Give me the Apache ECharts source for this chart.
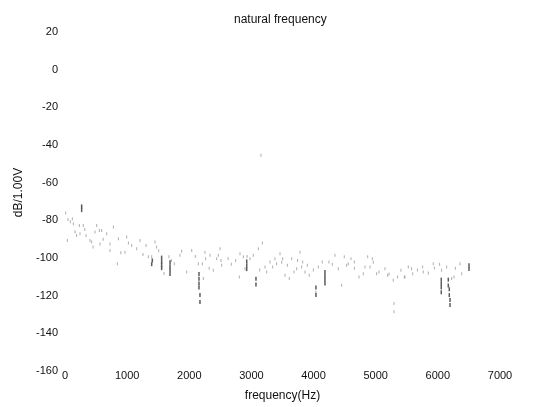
<!DOCTYPE html>
<html>
<head>
<meta charset="utf-8">
<script src="https://cdn.jsdelivr.net/npm/echarts@6/dist/echarts.min.js"></script>
<style>html,body{margin:0;padding:0;background:#fff}#c{width:535px;height:407px}</style>
</head>
<body>
<div id="c"></div>
<script>
// x axis ticks (Hz) and y axis ticks (dB)
var xTicks = [0, 1000, 2000, 3000, 4000, 5000, 6000, 7000];
var yTicks = [20, 0, -20, -40, -60, -80, -100, -120, -140, -160];

// light spectrum samples (frequency Hz, level dB)
var freqLight = [11,48,118,134,268,38,161,231,241,295,338,403,429,483,510,563,553,590,671,724,724,778,859,842,965,993,1073,1154,1207,1304,1341,
  1448,1475,1395,1593,1673,1759,1850,1877,1958,2039,2145,2210,2226,2252,2263,2334,2386,2441,2467,2494,2521,2510,
  2746,2816,2869,2896,2805,2977,3030,3111,3176,3218,3246,3299,3342,3379,3406,3460,3503,3540,3578,3609,3648,3685,3728,3781,3808,3825,3862,3899,3930,4038,4076,
  4140,4247,4344,4398,4452,4494,4532,4558,4602,4656,4731,4800,4827,4871,4908,4945,5015,5053,5149,5192,5282,5353,5406,5460,5294,5294,
  5470,5524,5578,5594,5755,5765,5846,5926,5943,6060,6142,6222,6260,6356,6384,3153,
  86,187,319,451,614,898,1020,1254,1508,1711,2097,2320,2625,2676,2930,3133,3488,3742,3996,4301,4657,4961,5215,5672,6028,6282];
var dbLight = [-76.1,-79.5,-79.2,-81.8,-73.1,-90.7,-86.1,-82.8,-87.1,-82.8,-88.0,-90.7,-91.5,-86.2,-82.8,-92.5,-85.4,-85.4,-87.1,-92.5,-96.0,-83.6,-89.8,-103.0,-96.9,-88.9,-93.4,-95.1,-90.7,-93.4,-99.4,
  -91.5,-94.2,-99.4,-108.2,-99.4,-103.0,-98.6,-96.4,-107.4,-96.0,-103.0,-103.0,-110.9,-96.9,-100.4,-98.6,-106.5,-100.4,-98.6,-95.1,-103.9,-101.3,
  -101.3,-97.7,-99.4,-105.7,-110.1,-100.4,-98.6,-95.1,-92.1,-104.8,-107.4,-102.1,-104.8,-100.4,-103.0,-97.7,-100.4,-109.2,-103.9,-110.9,-100.4,-107.4,-105.7,-96.9,-104.8,-102.1,-107.4,-103.9,-109.2,-118.0,-104.8,
  -102.1,-102.1,-98.6,-105.7,-114.5,-99.4,-103.9,-103.0,-100.4,-102.1,-110.1,-108.3,-104.8,-99.4,-104.8,-100.4,-108.3,-107.4,-105.7,-109.2,-111.8,-110.1,-106.5,-110.1,-124.1,-128.5,
  -110.1,-104.8,-105.7,-108.3,-104.8,-107.4,-107.9,-103.0,-105.3,-106.5,-104.8,-110.9,-110.1,-103.0,-108.3,-45.4,
  -80.8,-88.0,-84.9,-94.1,-90.0,-97.2,-92.1,-98.2,-96.2,-101.3,-99.2,-105.4,-100.3,-103.3,-99.2,-106.4,-102.3,-101.3,-106.4,-103.3,-105.4,-102.3,-108.5,-106.4,-103.3,-105.4];

// darker spectrum samples (vertical streaks)
var freqDark = [1555,1555,1555,1555,1690,1690,1690,1690,2156,2156,2156,2156,2172,2172,2924,2924,2924,3073,3073,4183,4183,4183,4183,
  6055,6055,6055,6055,6168,6168,6184,6184,6196,6196,6501,6501,1405,1395,268,268,4038,4038];
var dbDark = [-99.8,-101.8,-103.6,-105.4,-102.3,-104.4,-106.4,-108.5,-108.5,-111.0,-113.6,-115.6,-119.7,-123.3,-101.8,-103.9,-105.9,-111.0,-114.1,-107.4,-109.5,-111.5,-113.6,
  -111.5,-113.6,-115.6,-118.2,-111.5,-114.6,-116.6,-119.7,-122.3,-125.0,-103.8,-105.9,-101.3,-103.3,-72.6,-74.6,-115.6,-119.7];

function pairs(xs, ys){ var out=[]; for(var i=0;i<xs.length;i++) out.push([xs[i], ys[i]]); return out; }

var chart = echarts.init(document.getElementById('c'), null, {renderer:'canvas'});
var font = 'Liberation Sans, Arial, Helvetica, sans-serif';
chart.setOption({
  animation:false,
  backgroundColor:'#ffffff',
  title:{text:'natural frequency', left:229, top:9,
    textStyle:{fontFamily:font, fontSize:12, fontWeight:'normal', color:'#111'}},
  grid:{left:65, right:35, top:32, bottom:34, containLabel:false},
  xAxis:{type:'value', min:xTicks[0], max:xTicks[xTicks.length-1], interval:1000,
    name:'frequency(Hz)', nameLocation:'middle', nameGap:19,
    nameTextStyle:{fontFamily:font, fontSize:12, color:'#111'},
    axisLine:{show:false}, axisTick:{show:false}, splitLine:{show:false},
    axisLabel:{fontFamily:font, fontSize:11, color:'#111', margin:-1,
      formatter:function(v){ return String(v); }}},
  yAxis:{type:'value', min:yTicks[yTicks.length-1], max:yTicks[0], interval:20,
    name:'dB/1.00V', nameLocation:'middle', nameGap:26, nameRotate:90,
    nameTextStyle:{fontFamily:font, fontSize:12, color:'#111', padding:[0,0,0,18]},
    axisLine:{show:false}, axisTick:{show:false}, splitLine:{show:false},
    axisLabel:{fontFamily:font, fontSize:11, color:'#111', margin:7}},
  series:[
    {type:'scatter', data:pairs(freqLight, dbLight), symbol:'rect', symbolSize:[1,3],
      itemStyle:{color:'#999'}, silent:true},
    {type:'scatter', data:pairs(freqDark, dbDark), symbol:'rect', symbolSize:[1.5,4],
      itemStyle:{color:'#333'}, silent:true}
  ]
});
</script>
</body>
</html>
